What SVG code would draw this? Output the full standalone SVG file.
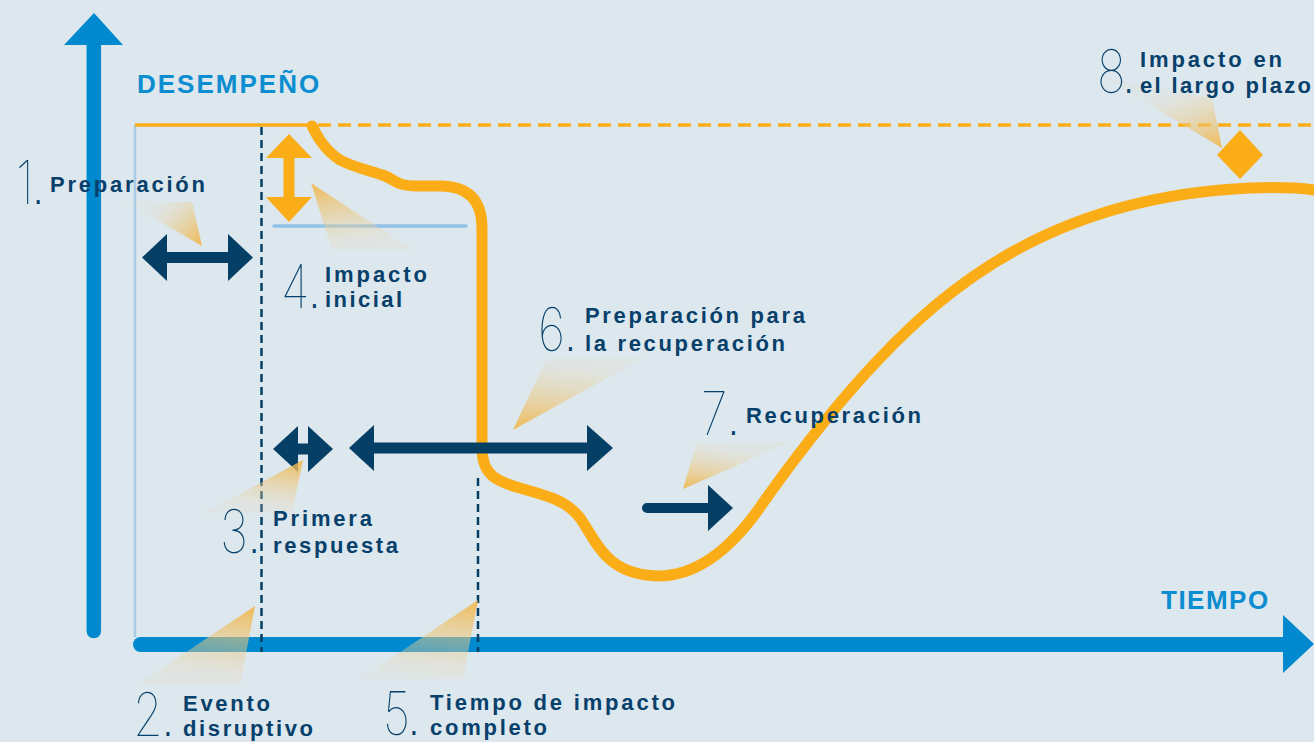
<svg xmlns="http://www.w3.org/2000/svg" width="1314" height="742" viewBox="0 0 1314 742">
  <defs>
    <style>
      .lbl { font-family: "Liberation Sans", Arial, sans-serif; font-weight: 700; font-size: 22px; fill: #07406a; }
      .axt { font-family: "Liberation Sans", Arial, sans-serif; font-weight: 700; font-size: 26px; fill: #0b8dd0; }
      .num { font-family: "Inter", "Lato", "DejaVu Sans", sans-serif; font-weight: 100; font-size: 60px; fill: #07406a; }
      .dot { font-family: "Liberation Sans", Arial, sans-serif; font-weight: 700; font-size: 26px; }
      .navy { fill: #053f66; }
      .orange { fill: #fbad18; }
      .curve { fill: none; stroke: #fbad18; stroke-width: 11; stroke-linecap: round; stroke-linejoin: round; }
      .vdash { fill: none; stroke: #053f66; stroke-width: 2.5; stroke-dasharray: 8 5; }
    </style>
    <linearGradient id="g1" gradientUnits="userSpaceOnUse" x1="202" y1="246" x2="160" y2="202"><stop offset="0" stop-color="#f1b545" stop-opacity="0.95"/><stop offset="1" stop-color="#eadbb8" stop-opacity="0.15"/></linearGradient>
    <linearGradient id="g2" gradientUnits="userSpaceOnUse" x1="255" y1="606" x2="245" y2="685"><stop offset="0" stop-color="#f1b545" stop-opacity="0.9"/><stop offset="1" stop-color="#eadbb8" stop-opacity="0.2"/></linearGradient>
    <linearGradient id="g3" gradientUnits="userSpaceOnUse" x1="303" y1="460" x2="295" y2="513"><stop offset="0" stop-color="#f1b545" stop-opacity="0.9"/><stop offset="1" stop-color="#eadbb8" stop-opacity="0.2"/></linearGradient>
    <linearGradient id="g4" gradientUnits="userSpaceOnUse" x1="311" y1="183" x2="320" y2="250"><stop offset="0" stop-color="#f1b545" stop-opacity="0.9"/><stop offset="1" stop-color="#eadbb8" stop-opacity="0.2"/></linearGradient>
    <linearGradient id="g5" gradientUnits="userSpaceOnUse" x1="478" y1="600" x2="470" y2="679"><stop offset="0" stop-color="#f1b545" stop-opacity="0.9"/><stop offset="1" stop-color="#eadbb8" stop-opacity="0.2"/></linearGradient>
    <linearGradient id="g6" gradientUnits="userSpaceOnUse" x1="513" y1="430" x2="520" y2="358"><stop offset="0" stop-color="#f1b545" stop-opacity="0.9"/><stop offset="1" stop-color="#eadbb8" stop-opacity="0.2"/></linearGradient>
    <linearGradient id="g7" gradientUnits="userSpaceOnUse" x1="683" y1="489" x2="690" y2="442"><stop offset="0" stop-color="#f1b545" stop-opacity="0.9"/><stop offset="1" stop-color="#eadbb8" stop-opacity="0.2"/></linearGradient>
    <linearGradient id="g8" gradientUnits="userSpaceOnUse" x1="1222" y1="148" x2="1200" y2="82"><stop offset="0" stop-color="#f1b545" stop-opacity="0.9"/><stop offset="1" stop-color="#eadbb8" stop-opacity="0.15"/></linearGradient>
  </defs>

  <rect width="1314" height="742" fill="#dce7ee"/>

  <g id="axes">
    <path d="M93.8,45 V631" stroke="#0089cf" stroke-width="14.5" stroke-linecap="round" fill="none"/>
    <polygon points="94,13 123,45 64,45" fill="#0089cf"/>
    <path d="M140.5,644.5 H1284" stroke="#0089cf" stroke-width="15" stroke-linecap="round" fill="none"/>
    <polygon points="1283,615 1314,644 1283,673" fill="#0089cf"/>
    <text class="axt" x="137" y="93" letter-spacing="2">DESEMPEÑO</text>
    <text class="axt" x="1161" y="609" letter-spacing="1.5">TIEMPO</text>
  </g>

  <g id="guides">
    <line x1="135" y1="125" x2="135" y2="637" stroke="#a5cbe6" stroke-width="2.5"/>
    <line x1="135" y1="125" x2="313" y2="125" stroke="#fbad18" stroke-width="3.5"/>
    <line x1="318" y1="125" x2="1314" y2="125" stroke="#fbad18" stroke-width="3.5" stroke-dasharray="13 7"/>
    <line x1="274" y1="226" x2="466" y2="226" stroke="#92c2e7" stroke-width="3.5" stroke-linecap="round"/>
    <line class="vdash" x1="261.5" y1="127" x2="261.5" y2="652"/>
    <line class="vdash" x1="478" y1="478" x2="478" y2="652"/>
  </g>

  <g id="curve">
    <path class="curve" d="M312,126 C318,138 325,150 340,160 C355,168 372,171 385,176 C395,180 398,186 415,186 L440,186 C468,186 482,200 482,228 L482,448 C482,474 495,481 520,488 C548,496 566,500 580,518 C596,540 605,575 658,576 C700,576 735,545 765,500 C795,458 835,405 880,358 C945,290 1050,197 1250,188 C1280,187 1300,188 1314,190"/>
  </g>

  <g id="connectors">
    <polygon class="navy" points="142,257.5 167,234 167,252 228,252 228,234 253,257.5 228,281 228,263 167,263 167,281"/>
    <polygon class="navy" points="273,449 298,426 298,443.5 308,443.5 308,426 333,449 308,472 308,454.5 298,454.5 298,472"/>
    <polygon class="navy" points="349,448 374,425 374,442.5 587,442.5 587,425 613,448 587,471 587,453.5 374,453.5 374,471"/>
    <path class="navy" d="M647,503 H708 V485 L733,508 L708,531 V513 H647 A5,5 0 0 1 647,503 Z"/>
    <polygon class="orange" points="289,134 312,158 294.5,158 294.5,197 312,197 289,222 266,197 283.5,197 283.5,158 266,158"/>
    <polygon class="orange" points="1240,130 1263,155 1240,179 1217,155"/>
  </g>

  <g id="pointers">
    <polygon points="127,202 192,202 202,246" fill="url(#g1)"/>
    <polygon points="255,606 240,685 137,685" fill="url(#g2)"/>
    <polygon points="303,460 292,513 205,513" fill="url(#g3)"/>
    <polygon points="311,183 413,250 332,250" fill="url(#g4)"/>
    <polygon points="478,600 463,679 360,679" fill="url(#g5)"/>
    <polygon points="513,430 547,358 643,358" fill="url(#g6)"/>
    <polygon points="683,489 697,442 790,442" fill="url(#g7)"/>
    <polygon points="1222,148 1105,78 1212,98" fill="url(#g8)"/>
  </g>

  <g id="n1">
    <text class="num" transform="translate(16,204) scale(0.8,1)">1<tspan class="dot" x="24">.</tspan></text>
    <text class="lbl" x="50" y="192" textLength="155">Preparación</text>
  </g>
  <g id="n2">
    <text class="num" transform="translate(133,736) scale(0.8,1)">2<tspan class="dot" x="40">.</tspan></text>
    <text class="lbl" x="183" y="711" textLength="87">Evento</text>
    <text class="lbl" x="183" y="736" textLength="130">disruptivo</text>
  </g>
  <g id="n3">
    <text class="num" transform="translate(220,553) scale(0.8,1)">3<tspan class="dot" x="39">.</tspan></text>
    <text class="lbl" x="273" y="526" textLength="99">Primera</text>
    <text class="lbl" x="273" y="553" textLength="125">respuesta</text>
  </g>
  <g id="n4">
    <text class="num" transform="translate(281,308) scale(0.8,1)">4<tspan class="dot" x="38">.</tspan></text>
    <text class="lbl" x="325" y="282" textLength="102">Impacto</text>
    <text class="lbl" x="325" y="307" textLength="77">inicial</text>
  </g>
  <g id="n5">
    <text class="num" transform="translate(383,735) scale(0.8,1)">5<tspan class="dot" x="35">.</tspan></text>
    <text class="lbl" x="430" y="710" textLength="245">Tiempo de impacto</text>
    <text class="lbl" x="430" y="735" textLength="117">completo</text>
  </g>
  <g id="n6">
    <text class="num" transform="translate(538,351) scale(0.8,1)">6<tspan class="dot" x="37">.</tspan></text>
    <text class="lbl" x="585" y="323" textLength="220">Preparación para</text>
    <text class="lbl" x="585" y="351" textLength="200">la recuperación</text>
  </g>
  <g id="n7">
    <text class="num" transform="translate(701,435) scale(0.8,1)">7<tspan class="dot" x="37">.</tspan></text>
    <text class="lbl" x="746" y="423" textLength="175">Recuperación</text>
  </g>
  <g id="n8">
    <text class="num" transform="translate(1097,93) scale(0.8,1)">8<tspan class="dot" x="36">.</tspan></text>
    <text class="lbl" x="1140" y="67" textLength="142">Impacto en</text>
    <text class="lbl" x="1140" y="93" textLength="171">el largo plazo</text>
  </g>
</svg>
